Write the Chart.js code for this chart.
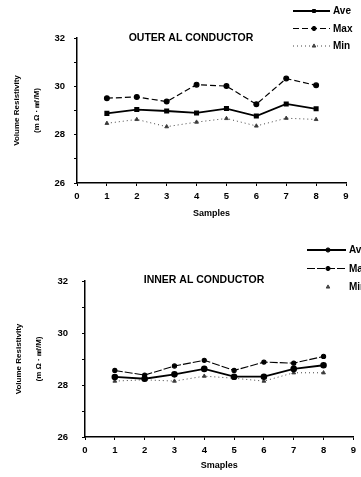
<!DOCTYPE html>
<html>
<head>
<meta charset="utf-8">
<script src="https://cdn.jsdelivr.net/npm/chart.js@4.4.1/dist/chart.umd.min.js"></script>
<style>
html, body { margin: 0; padding: 0; background: #fff; }
#wrap { position: relative; width: 361px; height: 477px; overflow: hidden; }
canvas { position: absolute; left: 0; }
</style>
</head>
<body>
<div id="wrap">
  <canvas id="outer" width="361" height="230" style="top:0"></canvas>
  <canvas id="inner" width="361" height="247" style="top:230px"></canvas>
</div>
<script>
// values
const samples = [1, 2, 3, 4, 5, 6, 7, 8];
const seriesNames = ["Ave", "Max", "Min"];
const outerAve = [28.88, 29.04, 28.98, 28.90, 29.08, 28.77, 29.27, 29.07];
const outerMax = [29.51, 29.56, 29.37, 30.07, 30.01, 29.26, 30.32, 30.04];
const outerMin = [28.47, 28.63, 28.33, 28.52, 28.67, 28.36, 28.68, 28.63];
const innerAve = [28.31, 28.24, 28.41, 28.62, 28.32, 28.32, 28.62, 28.76];
const innerMax = [28.56, 28.38, 28.73, 28.95, 28.56, 28.88, 28.84, 29.10];
const innerMin = [28.15, 28.20, 28.15, 28.34, 28.26, 28.15, 28.47, 28.47];
const xRange = [0, 9];
const yRange = [26, 32];

const FONT = '"Liberation Sans", Arial, sans-serif';

function pts(vals) {
    return vals.map((v, i) => ({ x: samples[i], y: v }));
}

// title + legend drawn beside the plot like in the scan
function sidePlugin(cfg) {
    return {
        id: 'side' + cfg.id,
        afterDraw(chart) {
            const ctx = chart.ctx;
            ctx.save();
            ctx.fillStyle = '#000';
            ctx.font = 'bold 10.5px ' + FONT;
            ctx.textAlign = 'center';
            ctx.textBaseline = 'middle';
            ctx.fillText(cfg.title, cfg.titleX, cfg.titleY);

            ctx.textAlign = 'left';
            ctx.font = 'bold 10px ' + FONT;
            chart.data.datasets.forEach((ds, i) => {
                const y = cfg.legendY + i * cfg.gap;
                ctx.strokeStyle = ds.borderColor;
                ctx.fillStyle = ds.borderColor;
                if (!ds.noLegendLine) {
                    ctx.lineWidth = ds.borderWidth;
                    ctx.setLineDash(ds.borderDash || []);
                    ctx.beginPath();
                    ctx.moveTo(cfg.x0, y);
                    ctx.lineTo(cfg.x1, y);
                    ctx.stroke();
                }
                ctx.setLineDash([]);
                ctx.lineWidth = 1;
                Chart.helpers.drawPoint(ctx, { pointStyle: ds.pointStyle, radius: 2.1, borderWidth: 1, rotation: 0 }, cfg.mx, y);
                ctx.fillStyle = '#000';
                ctx.fillText(ds.label, cfg.tx, y + 0.5);
            });
            ctx.restore();
        }
    };
}

function makeChart(el, opt) {
    return new Chart(el, {
        type: 'line',
        data: { datasets: opt.datasets },
        options: {
            responsive: false,
            animation: false,
            layout: { padding: { top: opt.top, right: opt.right, left: 0, bottom: 0 } },
            plugins: { legend: { display: false }, tooltip: { enabled: false } },
            scales: {
                x: {
                    type: 'linear',
                    min: xRange[0],
                    max: xRange[1],
                    afterFit(scale) { scale.height = opt.xHeight; },
                    ticks: { stepSize: 1, padding: 5, color: '#000', font: { family: FONT, size: 9.5, weight: 'bold' } },
                    grid: { drawOnChartArea: false, tickLength: 3, color: '#000' },
                    border: { color: '#000', width: 1.5 },
                    title: { display: true, text: opt.xTitle, color: '#000', padding: { top: 0, bottom: opt.xTitlePad }, font: { family: FONT, size: 9, weight: 'bold' } }
                },
                y: {
                    min: yRange[0],
                    max: yRange[1],
                    afterFit(scale) { scale.width = opt.yWidth; },
                    ticks: {
                        stepSize: 1, padding: opt.yTickPad, color: '#000',
                        font: { family: FONT, size: 9.5, weight: 'bold' },
                        callback: v => (v % 2 === 0 ? v : '')
                    },
                    grid: { drawOnChartArea: false, tickLength: 3, color: '#000' },
                    border: { color: '#000', width: 1.5 },
                    title: {
                        display: true,
                        text: ['Volume Resistivity', '(m Ω · ㎟/M)'],
                        color: '#000',
                        padding: { top: opt.yTitlePad, bottom: 0 },
                        font: { family: FONT, size: 8, weight: 'bold', lineHeight: 2.6 }
                    }
                }
            }
        },
        plugins: [sidePlugin(opt.side)]
    });
}

makeChart(document.getElementById('outer'), {
    top: 38, right: 15, xHeight: 47, yWidth: 77, yTickPad: 9, yTitlePad: 6, xTitle: 'Samples', xTitlePad: 11,
    side: { id: 'o', title: 'OUTER AL CONDUCTOR', titleX: 191, titleY: 38, legendY: 11, gap: 17.5, x0: 293, x1: 330, mx: 314, tx: 333 },
    datasets: [
        { label: seriesNames[0], data: pts(outerAve), borderColor: '#000', backgroundColor: '#000', borderWidth: 1.8, pointStyle: 'rect', pointRadius: 2.3 },
        { label: seriesNames[1], data: pts(outerMax), borderColor: '#000', backgroundColor: '#000', borderWidth: 1.2, borderDash: [6, 3], pointStyle: 'circle', pointRadius: 2.4 },
        { label: seriesNames[2], data: pts(outerMin), borderColor: '#444', backgroundColor: '#333', borderWidth: 1, borderDash: [1, 3], pointStyle: 'triangle', pointRadius: 2.2 }
    ]
});

makeChart(document.getElementById('inner'), {
    top: 51, right: 2, xHeight: 40, yWidth: 85, yTickPad: 14, yTitlePad: 8, xTitle: 'Smaples', xTitlePad: 6,
    side: { id: 'i', title: 'INNER AL CONDUCTOR', titleX: 204, titleY: 50, legendY: 20, gap: 18.5, x0: 307, x1: 346, mx: 328, tx: 349 },
    datasets: [
        { label: seriesNames[0], data: pts(innerAve), borderColor: '#000', backgroundColor: '#000', borderWidth: 1.8, pointStyle: 'circle', pointRadius: 2.4 },
        { label: seriesNames[1], data: pts(innerMax), borderColor: '#000', backgroundColor: '#000', borderWidth: 1.1, borderDash: [8, 2], pointStyle: 'circle', pointRadius: 2.1 },
        { label: seriesNames[2], data: pts(innerMin), borderColor: '#444', backgroundColor: '#333', borderWidth: 1, borderDash: [1, 3], pointStyle: 'triangle', pointRadius: 2.2, noLegendLine: true }
    ]
});
</script>
</body>
</html>
